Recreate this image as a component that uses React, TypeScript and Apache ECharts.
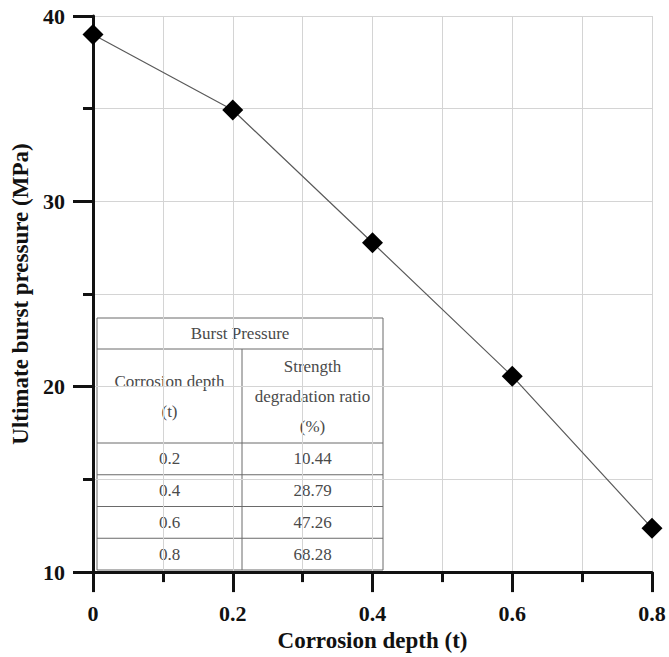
import React, { useEffect, useRef } from "react";
import * as echarts from "echarts";

const depths = [0, 0.2, 0.4, 0.6, 0.8];
const burstPressure = [39.0, 34.93, 27.77, 20.57, 12.37];

const tableTitle = "Burst Pressure";
const tableHeaders = ["Corrosion depth\n(t)", "Strength\ndegradation ratio\n(%)"];
const tableDepths = ["0.2", "0.4", "0.6", "0.8"];
const tableRatios = ["10.44", "28.79", "47.26", "68.28"];

const FONT = "Liberation Serif";

export default function App() {
  const ref = useRef<HTMLDivElement>(null);
  useEffect(() => {
    if (!ref.current) return;
    const chart = echarts.init(ref.current, undefined, { renderer: "svg" });

    // table geometry (inset annotation)
    const tx0 = 97, tx1 = 383, tColX = 242;
    const tTop = 318, tTitleBottom = 349, tHeaderBottom = 443, rowH = 31.75;
    const tBottom = tHeaderBottom + rowH * tableDepths.length;
    const lineStyle = { stroke: "#6a6a6a", lineWidth: 1 };
    const textStyleBase = {
      fill: "#4a4a4a",
      fontFamily: FONT,
      fontSize: 17,
      align: "center",
      verticalAlign: "middle",
    };
    const elements: any[] = [];
    elements.push({
      type: "rect",
      shape: { x: tx0, y: tTop, width: tx1 - tx0, height: tBottom - tTop },
      style: { fill: "#fff", stroke: "#6a6a6a", lineWidth: 1 },
    });
    elements.push({ type: "line", shape: { x1: tx0, y1: tTitleBottom, x2: tx1, y2: tTitleBottom }, style: lineStyle });
    elements.push({ type: "line", shape: { x1: tColX, y1: tTitleBottom, x2: tColX, y2: tBottom }, style: lineStyle });
    for (let i = 0; i < tableDepths.length; i++) {
      const y = tHeaderBottom + rowH * i;
      elements.push({ type: "line", shape: { x1: tx0, y1: y, x2: tx1, y2: y }, style: lineStyle });
    }
    elements.push({
      type: "text",
      x: (tx0 + tx1) / 2,
      y: (tTop + tTitleBottom) / 2,
      style: { ...textStyleBase, text: tableTitle },
    });
    elements.push({
      type: "text",
      x: (tx0 + tColX) / 2,
      y: (tTitleBottom + tHeaderBottom) / 2,
      style: { ...textStyleBase, text: tableHeaders[0], lineHeight: 30 },
    });
    elements.push({
      type: "text",
      x: (tColX + tx1) / 2,
      y: (tTitleBottom + tHeaderBottom) / 2,
      style: { ...textStyleBase, text: tableHeaders[1], lineHeight: 30 },
    });
    tableDepths.forEach((d, i) => {
      const cy = tHeaderBottom + rowH * (i + 0.5);
      elements.push({ type: "text", x: (tx0 + tColX) / 2, y: cy, style: { ...textStyleBase, text: d } });
      elements.push({ type: "text", x: (tColX + tx1) / 2, y: cy, style: { ...textStyleBase, text: tableRatios[i] } });
    });

    const axisLabelStyle = { color: "#111", fontFamily: FONT, fontWeight: "bold" as const, fontSize: 22 };
    const splitColor = "#d4d4d4";

    chart.setOption({
      animation: false,
      backgroundColor: "#fff",
      grid: { left: 93, right: 17, top: 16, bottom: 84, containLabel: false },
      xAxis: {
        type: "value",
        min: 0,
        max: 0.8,
        interval: 0.2,
        name: "Corrosion depth (t)",
        nameLocation: "middle",
        nameGap: 55,
        nameTextStyle: { ...axisLabelStyle, fontSize: 23 },
        axisLine: { show: true, lineStyle: { color: "#111", width: 3 } },
        axisTick: { show: true, length: 20, lineStyle: { color: "#111", width: 3 } },
        minorTick: { show: true, splitNumber: 2, length: 10, lineStyle: { color: "#111", width: 3 } },
        splitLine: { show: true, lineStyle: { color: splitColor, width: 1 } },
        minorSplitLine: { show: true, lineStyle: { color: splitColor, width: 1 } },
        axisLabel: {
          ...axisLabelStyle,
          margin: 30,
          formatter: (v: number) => (v === 0 ? "0" : String(Math.round(v * 10) / 10)),
        },
      },
      yAxis: {
        type: "value",
        min: 10,
        max: 40,
        interval: 10,
        name: "Ultimate burst pressure (MPa)",
        nameLocation: "middle",
        nameGap: 55,
        nameTextStyle: { ...axisLabelStyle, fontSize: 23 },
        axisLine: { show: true, lineStyle: { color: "#111", width: 3 } },
        axisTick: { show: true, length: 20, lineStyle: { color: "#111", width: 3 } },
        minorTick: { show: true, splitNumber: 2, length: 10, lineStyle: { color: "#111", width: 3 } },
        splitLine: { show: true, lineStyle: { color: splitColor, width: 1 } },
        minorSplitLine: { show: true, lineStyle: { color: splitColor, width: 1 } },
        axisLabel: { ...axisLabelStyle, margin: 28 },
      },
      series: [
        {
          type: "line",
          data: depths.map((d, i) => [d, burstPressure[i]]),
          symbol: "diamond",
          symbolSize: 21,
          itemStyle: { color: "#000" },
          lineStyle: { color: "#5a5a5a", width: 1.2 },
          z: 3,
        },
      ],
      graphic: { elements: [{ type: "group", z: 100, children: elements }] },
    });
    return () => chart.dispose();
  }, []);
  return <div ref={ref} style={{ position: "fixed", left: 0, top: 0, width: 669, height: 657 }} />;
}
